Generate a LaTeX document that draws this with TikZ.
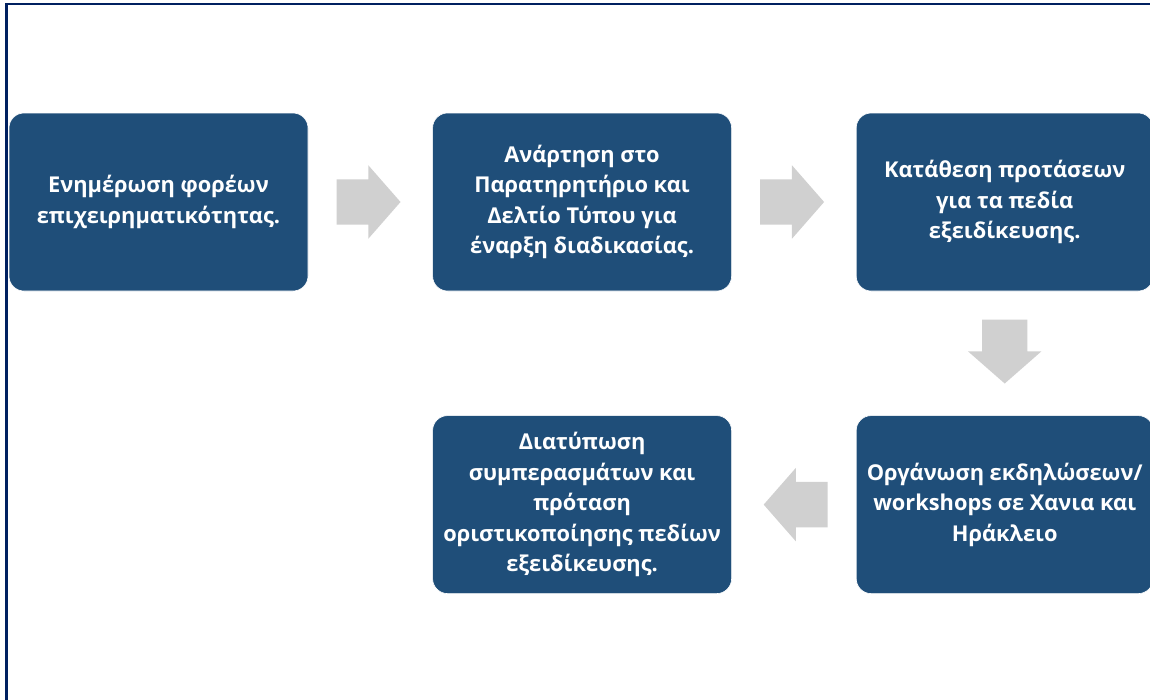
\documentclass[tikz,border=0pt]{standalone}
\usepackage{fontspec}
\setmainfont{Open Sans}
\usepackage{tikz}
\usetikzlibrary{shapes.arrows}
\usetikzlibrary{positioning}
\definecolor{boxblue}{HTML}{1F4E79}
\definecolor{framenavy}{HTML}{002060}
\definecolor{arrowgray}{HTML}{D0D0D0}
\tikzstyle{phase}=[rectangle, rounded corners=15pt, fill=boxblue, draw=white,
                line width=0.6pt, minimum width=299pt, minimum height=178pt,
                text=white, align=center, inner sep=2pt,
                font=\bfseries\fontsize{21.8}{30.5}\selectfont]
\tikzstyle{flowarrow}=[single arrow, fill=arrowgray, draw=none, inner xsep=0pt,
                inner ysep=22.5pt, minimum height=64pt, single arrow head extend=14pt,
                single arrow tip angle=97.6, anchor=tail]

\begin{document}
\begin{tikzpicture}
        \useasboundingbox (0,0) rectangle (1150pt,-699pt);
        \draw[framenavy, line width=2.5pt] (6.5pt,-4pt) rectangle (1160pt,-710pt);
        \node [phase] (enim) at (158.5pt,-202pt) {Ενημέρωση φορέων\\επιχειρηματικότητας.};
        \node [phase, right = 124pt of enim] (anart) {Ανάρτηση στο\\Παρατηρητήριο και\\Δελτίο Τύπου για\\έναρξη διαδικασίας.};
        \node [phase, right = 124pt of anart, minimum width=297pt] (katath) {Κατάθεση προτάσεων\\για τα πεδία\\εξειδίκευσης.};
        \node [phase, below = 124pt of katath, minimum width=297pt] (organ) {Οργάνωση εκδηλώσεων/\\workshops σε Χανια και\\Ηράκλειο};
        \node [phase, left = 124pt of organ] (diat) {Διατύπωση\\συμπερασμάτων και\\πρόταση\\οριστικοποίησης πεδίων\\εξειδίκευσης.};
        % connectors between the steps
        \node [flowarrow, right = 28pt of enim] (a1) {};
        \node [flowarrow, right = 28pt of anart] (a2) {};
        \node [flowarrow, below = 28pt of katath, shape border rotate=270,
               inner xsep=22.5pt, inner ysep=0pt] (a3) {};
        \node [flowarrow, left = 28pt of organ, shape border rotate=180] (a4) {};
    \end{tikzpicture}
\end{document}
